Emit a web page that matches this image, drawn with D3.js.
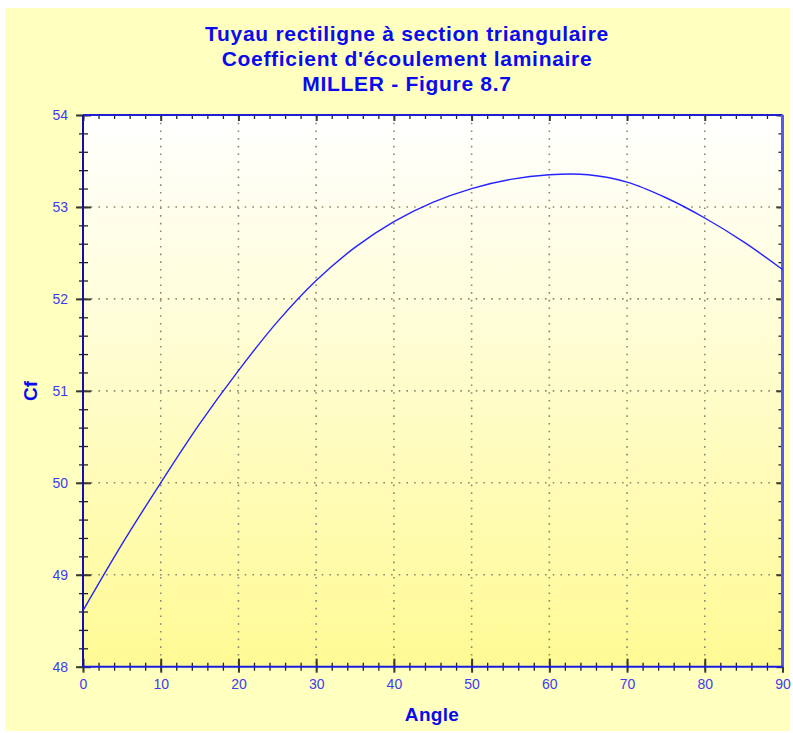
<!DOCTYPE html>
<meta charset="utf-8">
<script src="https://d3js.org/d3.v7.min.js"></script>
<style type="text/css">
  body { margin: 0; background: #fff; }
  text { font-family: "Liberation Sans", Arial, sans-serif; }
</style>
<body>
</body>
<script>

// values (Cf against angle in degrees)
var angles = [0, 5, 10, 15, 20, 25, 30, 35, 40, 45, 50, 55, 60, 65, 70, 75, 80, 85, 90];
var cf = [48.61, 49.33, 50.0, 50.64, 51.22, 51.75, 52.2, 52.56, 52.84, 53.05, 53.2, 53.3, 53.35, 53.35, 53.27, 53.1, 52.88, 52.62, 52.32];

var titleLines = ["Tuyau rectiligne à section triangulaire", "Coefficient d'écoulement laminaire", "MILLER - Figure 8.7"];
var xTicks = [0, 10, 20, 30, 40, 50, 60, 70, 80, 90];
var yTicks = [48, 49, 50, 51, 52, 53, 54];
var xLabel = "Angle";
var yLabel = "Cf";

var W = 793, H = 733;
var margin = {left: 83, right: 10.5, top: 115, bottom: 66.3};
var width = W - margin.left - margin.right;
var height = H - margin.top - margin.bottom;

var svg = d3.select("body").append("svg")
  .attr("width", W)
  .attr("height", H);

// outer panel
svg.append("rect")
  .attr("x", 5).attr("y", 8)
  .attr("width", 785).attr("height", 723)
  .style("fill", "#ffffc0");

var grad = svg.append("defs").append("linearGradient")
  .attr("id", "plotBg")
  .attr("x1", 0).attr("y1", 0).attr("x2", 0).attr("y2", 1);
grad.append("stop").attr("offset", "0%").attr("stop-color", "#ffffff");
grad.append("stop").attr("offset", "100%").attr("stop-color", "#fffa94");

var g = svg.append("g")
  .attr("transform", `translate(${margin.left},${margin.top})`);

var xScale = d3.scaleLinear().domain([0, 90]).range([0, width]);
var yScale = d3.scaleLinear().domain([48, 54]).range([height, 0]);

g.append("rect")
  .attr("width", width).attr("height", height)
  .style("fill", "url(#plotBg)");

// dotted grid
g.append("g").attr("class", "grid")
  .selectAll("line").data(xTicks.slice(1, -1)).enter().append("line")
  .attr("x1", d => xScale(d)).attr("x2", d => xScale(d))
  .attr("y1", 0).attr("y2", height);
g.append("g").attr("class", "grid")
  .selectAll("line").data(yTicks.slice(1, -1)).enter().append("line")
  .attr("x1", 0).attr("x2", width)
  .attr("y1", d => yScale(d)).attr("y2", d => yScale(d));
g.selectAll(".grid line")
  .style("stroke", "#8a8a70")
  .style("stroke-width", 1.6)
  .style("stroke-dasharray", "1.6,6.1");

var xMinor = d3.range(0, 90.01, 2);
var yMinor = d3.range(48, 54.01, 0.2);

function tickGroup(axis, tx, ty) {
  var a = g.append("g")
    .attr("transform", `translate(${tx},${ty})`)
    .call(axis);
  a.select(".domain").remove();
  a.selectAll("text").remove();
  a.selectAll("line").style("stroke", "#222").style("stroke-width", 1.3);
  return a;
}

// minor ticks
tickGroup(d3.axisLeft(yScale).tickValues(yMinor).tickSize(4), 0, 0);
tickGroup(d3.axisRight(yScale).tickValues(yMinor).tickSize(5), 0, 0);
tickGroup(d3.axisBottom(xScale).tickValues(xMinor).tickSize(4), 0, height);
tickGroup(d3.axisTop(xScale).tickValues(xMinor).tickSize(4), 0, height);
tickGroup(d3.axisBottom(xScale).tickValues(xMinor).tickSize(4), 0, 0);
tickGroup(d3.axisLeft(yScale).tickValues(yMinor).tickSize(4), width, 0);

// major ticks
function major(a) {
  a.selectAll("line").style("stroke", "#3a3a2a").style("stroke-width", 2);
}
major(tickGroup(d3.axisLeft(yScale).tickValues(yTicks).tickSize(7), 0, 0));
major(tickGroup(d3.axisRight(yScale).tickValues(yTicks).tickSize(8), 0, 0));
major(tickGroup(d3.axisBottom(xScale).tickValues(xTicks).tickSize(6), 0, height));
major(tickGroup(d3.axisTop(xScale).tickValues(xTicks).tickSize(8), 0, height));
major(tickGroup(d3.axisBottom(xScale).tickValues(xTicks).tickSize(6), 0, 0));
major(tickGroup(d3.axisLeft(yScale).tickValues(yTicks).tickSize(6), width, 0));

// frame
g.append("line").attr("x1", 0).attr("x2", width).attr("y1", 0).attr("y2", 0)
  .style("stroke", "#2020d0").style("stroke-width", 2);
g.append("line").attr("x1", width).attr("x2", width).attr("y1", 0).attr("y2", height)
  .style("stroke", "#5858f0").style("stroke-width", 3);
g.append("line").attr("x1", 0).attr("x2", 0).attr("y1", 0).attr("y2", height)
  .style("stroke", "#1010a8").style("stroke-width", 2);
g.append("line").attr("x1", 0).attr("x2", width).attr("y1", height).attr("y2", height)
  .style("stroke", "#1a1ae0").style("stroke-width", 2);

// tick labels
var yAxisLabels = g.append("g")
  .attr("transform", "translate(-7,0)")
  .call(d3.axisLeft(yScale).tickValues(yTicks).tickFormat(d3.format("d")).tickSize(0).tickPadding(8));
var xAxisLabels = g.append("g")
  .attr("transform", `translate(0,${height + 7})`)
  .call(d3.axisBottom(xScale).tickValues(xTicks).tickFormat(d3.format("d")).tickSize(0).tickPadding(5));
[yAxisLabels, xAxisLabels].forEach(function(a) {
  a.select(".domain").remove();
  a.selectAll("text")
    .style("font-family", '"Liberation Sans", Arial, sans-serif')
    .style("font-size", "14px")
    .style("fill", "#3c3cf0");
});

// curve
var line = d3.line()
  .x((d, i) => xScale(angles[i]))
  .y(d => yScale(d))
  .curve(d3.curveCatmullRom.alpha(0.5));

g.append("path")
  .datum(cf)
  .attr("d", line)
  .style("fill", "none")
  .style("stroke", "#2424ff")
  .style("stroke-width", 1.4);

// titles
svg.selectAll(".title")
  .data(titleLines).enter().append("text")
  .attr("class", "title")
  .attr("x", 407)
  .attr("y", (d, i) => 41 + i * 25)
  .attr("text-anchor", "middle")
  .style("font-size", "21px")
  .style("letter-spacing", "0.7px")
  .style("font-weight", "bold")
  .style("fill", "#0a0aee")
  .text(d => d);

svg.append("text")
  .attr("x", 432)
  .attr("y", 721)
  .attr("text-anchor", "middle")
  .style("font-size", "19px")
  .style("letter-spacing", "0.3px")
  .style("font-weight", "bold")
  .style("fill", "#0a0aee")
  .text(xLabel);

svg.append("text")
  .attr("transform", "translate(37,391) rotate(-90)")
  .attr("text-anchor", "middle")
  .style("font-size", "19px")
  .style("font-weight", "bold")
  .style("fill", "#0a0aee")
  .text(yLabel);

</script>
